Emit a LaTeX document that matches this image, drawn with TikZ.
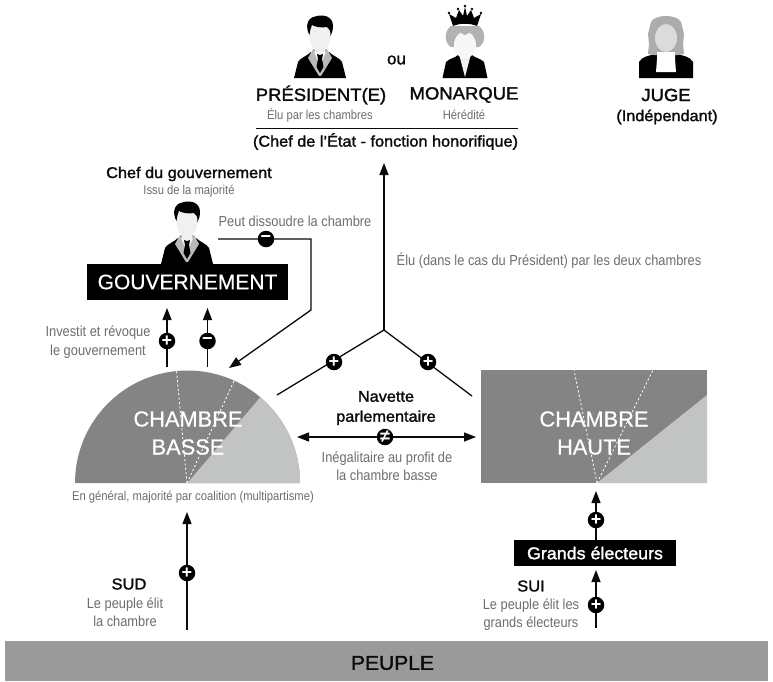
\documentclass[tikz,border=0pt]{standalone}
\usepackage{fontspec}
\setmainfont{Liberation Sans}
\newfontfamily\narrowf[FakeStretch=0.885]{Liberation Sans}
\newfontfamily\semif[FakeStretch=1.05,FakeBold=1.6]{Liberation Sans}
\newfontfamily\chambf[FakeBold=0.6]{Liberation Sans}
\usetikzlibrary{arrows.meta}
\definecolor{dk}{HTML}{848484}
\definecolor{lt}{HTML}{C2C4C3}
\definecolor{txtg}{HTML}{6E6E6E}
\definecolor{barg}{HTML}{9A9A9A}
\definecolor{ink}{HTML}{0A0A0A}
\tikzset{
  x=1pt,y=-1pt,
  conn/.style={draw=ink,line width=1.3pt},
  arr/.style={conn,-{Triangle[length=12pt,width=9pt]}},
  arrs/.style={conn,{Triangle[length=12pt,width=9pt]}-{Triangle[length=12pt,width=9pt]}},
  sign/.style={circle,fill=black,text=white,inner sep=0pt,minimum size=16.5pt,font=\fontsize{18}{18}\selectfont\bfseries},
  big/.style={font=\fontsize{17.6}{20}\semif,text=ink,align=center,inner sep=0pt},
  headt/.style={font=\fontsize{15.5}{20}\semif,text=ink,align=center,inner sep=0pt},
  capt/.style={font=\fontsize{14.5}{18.5}\narrowf,text=txtg,align=center,inner sep=0pt},
  capts/.style={font=\fontsize{12.7}{14}\narrowf,text=txtg,align=center,inner sep=0pt},
  chamb/.style={font=\fontsize{21.8}{28}\chambf,text=white,align=center,inner sep=0pt},
  blackbox/.style={fill=black,text=white,inner sep=0pt,align=center},
  dashl/.style={draw=white,line width=.8pt,dash pattern=on 2.2pt off 2.2pt},
  man/.pic={
    \fill[black] (-26,62) -- (-22,46) .. controls (-20,42) and (-13,40) .. (-9,36) -- (9,36) .. controls (13,40) and (20,42) .. (22,46) -- (26,62) -- cycle;
    \fill[gray!55] (-7,33) -- (-12,42) -- (-1,60) -- (1,60) -- (12,42) -- (7,33) -- cycle;
    \fill[gray!6] (-6,36) -- (0,50) -- (6,36) -- cycle;
    \fill[black] (-3,38) -- (3,38) -- (2,43) -- (3.5,51) -- (0,57) -- (-3.5,51) -- (-2,43) -- cycle;
    \fill[gray!12] (-5,28) -- (5,28) -- (5,37) -- (0,39) -- (-5,37) -- cycle;
    \fill[gray!12] (0,20) ellipse [x radius=10.5,y radius=15];
    \fill[black] (-10.5,19) .. controls (-15,11) and (-13,2) .. (-5,0.5) .. controls (3,-2) and (13,0) .. (13,10) .. controls (13,14) and (12,17) .. (10.5,20) .. controls (10.5,15) and (10,13) .. (7,11) .. controls (2,12) and (-5,11) .. (-8,9) .. controls (-9.5,12) and (-10,15) .. (-10.5,19) -- cycle;
  },
  queen/.pic={
    \fill[black] (-22.5,62) -- (-19,46) .. controls (-15,42) and (-10,42) .. (-7,39) -- (7,39) .. controls (10,42) and (15,42) .. (19,46) -- (22.5,62) -- cycle;
    \fill[gray!12] (-6,38) -- (0,61) -- (6,38) -- cycle;
    \fill[gray!60] (-14,10) .. controls (-20,14) and (-22,26) .. (-14,31) -- (14,31) .. controls (22,26) and (20,14) .. (14,10) -- cycle;
    \fill[gray!6] (0,29) ellipse [x radius=11,y radius=13.5];
    \fill[gray!60] (-8,10) -- (8,10) -- (4,17) -- (0,19) -- (-4,17) -- cycle;
    \fill[black] (-12,10) -- (-16,-2) -- (-9,2) -- (-6,-6) -- (-2,0) -- (0,-9) -- (2,0) -- (6,-6) -- (9,2) -- (16,-2) -- (12,10) .. controls (5,7) and (-5,7) .. (-12,10) -- cycle;
    \foreach \a/\b in {-16/-3,-7/-7,0/-10,7/-7,16/-3}{\fill[black] (\a,\b) circle (1.3);}
  },
  judge/.pic={
    \fill[black] (-27,62) -- (-27,46) .. controls (-24,40) and (-16,40) .. (-9,37) -- (9,37) .. controls (16,40) and (24,40) .. (27,46) -- (27,62) -- cycle;
    \fill[gray!65] (-12,39) -- (-18,38) -- (-17,28) -- (-18,18) -- (-15,6) .. controls (-11,-2) and (11,-2) .. (15,6) -- (18,18) -- (17,28) -- (18,38) -- (12,39) -- cycle;
    \fill[white] (-9,36) -- (9,36) -- (9,43) -- (10,56) -- (-10,56) -- (-9,43) -- cycle;
    \fill[gray!28] (0,22) ellipse [x radius=11,y radius=14];
  }
}
\begin{document}
\begin{tikzpicture}
\useasboundingbox (0,0) rectangle (773,681);
\fill[white] (0,0) rectangle (773,681);

% top persons
\pic at (320,16) {man};
\pic at (465,16) {queen};
\pic at (666,16) {judge};
\pic at (187,202) {man};

\node[headt,font=\fontsize{16.2}{17}\semif] (ou) at (396.5,60) {ou};
\node[big] (pres) at (321,95) {PRÉSIDENT(E)};
\node[big] (mon) at (464,95) {MONARQUE};
\node[capts] (elu) at (320,115) {Élu par les chambres};
\node[capts] (her) at (464,115) {Hérédité};
\coordinate (ruleL) at (256,128);
\coordinate (ruleR) at (518,128);
\draw[ink,line width=1pt] (ruleL) -- (ruleR);
\node[headt] (chef) at (385.5,141.5) {(Chef de l’État - fonction honorifique)};
\node[big] (juge) at (666,95) {JUGE};
\node[headt] (indep) at (667,117) {(Indépendant)};

% gouvernement
\node[headt] (chefg) at (189,174) {Chef du gouvernement};
\node[capts] (issu) at (189,191) {Issu de la majorité};
\node[blackbox,minimum width=201pt,minimum height=36pt,font=\fontsize{21}{22}\chambf] (gouv) at (187.5,282) {GOUVERNEMENT};
\node[capt] (peut) at (295,221) {Peut dissoudre la chambre};
\node[capt] (inv) at (98,342) {Investit et révoque\\le gouvernement};

% chambre basse
\fill[dk] (75,483) arc[start angle=180,end angle=360,radius=112.5] -- cycle;
\fill[lt] (187.5,483) -- (260.3,397.2) arc[start angle=-49.7,end angle=0,radius=112.5] -- cycle;
\coordinate (cbc) at (187,483);
\coordinate (cbd1) at (176.5,371);
\coordinate (cbd2) at (234,381);
\draw[dashl] (cbc) -- (cbd1);
\draw[dashl] (cbc) -- (cbd2);
\node[chamb] (cb) at (188,433) {CHAMBRE\\BASSE};
\node[capts] (gen) at (193,497) {En général, majorité par coalition (multipartisme)};

% chambre haute
\fill[dk] (481,370) rectangle (707,483);
\fill[lt] (597,483) -- (707,395) -- (707,483) -- cycle;
\coordinate (chc) at (597,483);
\coordinate (chd1) at (574,370);
\coordinate (chd2) at (653,370);
\draw[dashl] (chc) -- (chd1);
\draw[dashl] (chc) -- (chd2);
\node[chamb] (ch) at (594,433) {CHAMBRE\\HAUTE};

% centre
\coordinate (junc) at (384,330);
\coordinate (top) at (384,163);
\coordinate (bl) at (277,395);
\coordinate (br) at (472,396);
\draw[arr] (junc) -- (top);
\draw[conn] (bl) -- (junc) -- (br);
\node[sign] (pl1) at (334,362) {+};
\node[sign] (pl2) at (428,362) {+};
\node[capt] (eludc) at (549,261) {Élu (dans le cas du Président) par les deux chambres};
\node[headt] (nav) at (386,408) {Navette\\parlementaire};
\coordinate (nl) at (297,437);
\coordinate (nr) at (476,437);
\draw[arrs] (nl) -- (nr);
\node[sign] (ne) at (385,437) {≠};
\node[capt] (ineg) at (387,466) {Inégalitaire au profit de\\la chambre basse};

% gov arrows
\coordinate (a1b) at (167,367);
\coordinate (a1t) at (167,308);
\coordinate (a2b) at (207.5,367);
\coordinate (a2t) at (207.5,308);
\draw[arr] (a1b) -- (a1t);
\draw[arr] (a2b) -- (a2t);
\node[sign] (s1) at (167,341) {+};
\node[sign] (s2) at (207.5,341) {−};
\coordinate (d0) at (218,239);
\coordinate (d1) at (311,239);
\coordinate (d2) at (311,310);
\coordinate (d3) at (229,368);
\draw[arr] (d0) -- (d1) -- (d2) -- (d3);
\node[sign] (s3) at (266,239) {−};

% SUD
\coordinate (sb) at (187,630);
\coordinate (st) at (187,512);
\draw[arr] (sb) -- (st);
\node[sign] (s4) at (187,573) {+};
\node[big,font=\fontsize{15.7}{17}\semif] (sud) at (129,584) {SUD};
\node[capt] (lpe) at (125,612) {Le peuple élit\\la chambre};

% SUI
\node[blackbox,minimum width=162pt,minimum height=26pt,font=\fontsize{17}{18}\semif] (ge) at (595,553) {Grands électeurs};
\coordinate (gt) at (596,491);
\draw[arr] (ge.north -| gt) -- (gt);
\node[sign] (s5) at (596,520) {+};
\coordinate (ib) at (596,628);
\coordinate (it) at (596,570);
\draw[arr] (ib) -- (it);
\node[sign] (s6) at (596,605) {+};
\node[big,font=\fontsize{15.7}{17}\semif] (sui) at (531,586) {SUI};
\node[capt] (lpg) at (531,614.5) {Le peuple élit les\\grands électeurs};

% peuple
\node[fill=barg,minimum width=763pt,minimum height=40pt,inner sep=0pt] (peuple) at (386.5,661) {};
\node[big,font=\fontsize{20}{22}\semif] (peupletxt) at (392.5,663) {PEUPLE};
\end{tikzpicture}
\end{document}
